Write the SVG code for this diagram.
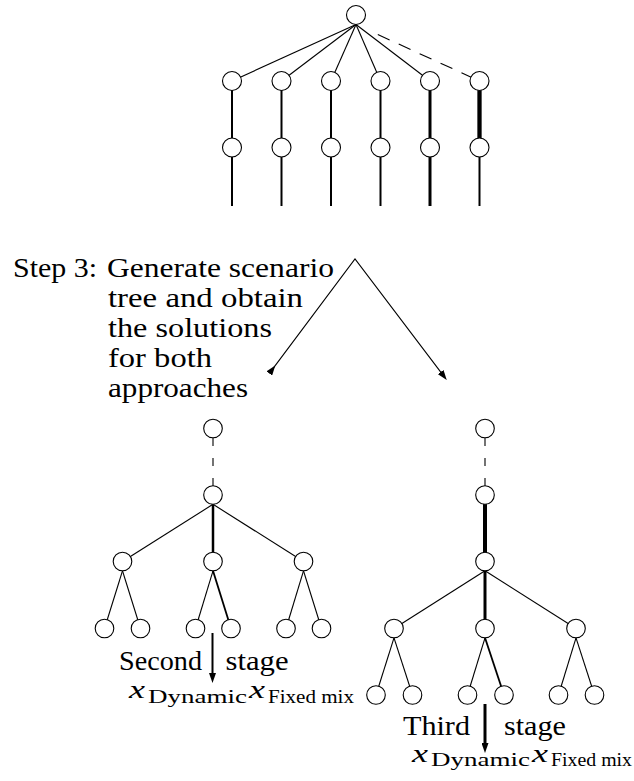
<svg xmlns="http://www.w3.org/2000/svg" width="634" height="781" viewBox="0 0 634 781">
<style>
  .n { fill: #fff; stroke: #000; stroke-width: 1.1; }
  .e { stroke: #000; stroke-width: 1.1; fill: none; stroke-linecap: butt; }
  .d { stroke-dasharray: 13 10; }
  .dv { stroke-dasharray: 8 12; }
  .t { font-size: 27px; fill: #000; }
  .xi { font-size: 26px; font-style: italic; fill: #000; }
  .sub { font-size: 19px; fill: #000; }
</style>
<defs>
  <marker id="ah" markerUnits="userSpaceOnUse" viewBox="0 0 10 7" markerWidth="10" markerHeight="7" refX="2" refY="3.5" orient="auto">
    <path d="M0,0 L10,3.5 L0,7 z" fill="#000"/>
  </marker>
</defs>

<g id="connectors">
  <!-- top tree -->
  <line class="e" x1="356" y1="24.5" x2="232" y2="81"/>
  <line class="e" x1="356" y1="24.5" x2="281.5" y2="81"/>
  <line class="e" x1="356" y1="24.5" x2="331" y2="81"/>
  <line class="e" x1="356" y1="24.5" x2="380.5" y2="81"/>
  <line class="e" x1="356" y1="24.5" x2="430" y2="81"/>
  <line class="e d" x1="377.8" y1="34.5" x2="479.5" y2="81"/>
  <line class="e" style="stroke-width:2" x1="232" y1="81" x2="232" y2="147.5"/>
  <line class="e" style="stroke-width:2" x1="281.5" y1="81" x2="281.5" y2="147.5"/>
  <line class="e" style="stroke-width:2" x1="331" y1="81" x2="331" y2="147.5"/>
  <line class="e" style="stroke-width:2" x1="380.5" y1="81" x2="380.5" y2="147.5"/>
  <line class="e" style="stroke-width:3" x1="430" y1="81" x2="430" y2="147.5"/>
  <line class="e" style="stroke-width:4.3" x1="479.5" y1="81" x2="479.5" y2="147.5"/>
  <line class="e" style="stroke-width:2" x1="232" y1="147.5" x2="232" y2="206"/>
  <line class="e" style="stroke-width:2" x1="281.5" y1="147.5" x2="281.5" y2="206"/>
  <line class="e" style="stroke-width:2" x1="331" y1="147.5" x2="331" y2="206"/>
  <line class="e" style="stroke-width:2" x1="380.5" y1="147.5" x2="380.5" y2="206"/>
  <line class="e" style="stroke-width:3" x1="430" y1="147.5" x2="430" y2="206"/>
  <line class="e" style="stroke-width:2" x1="479.5" y1="147.5" x2="479.5" y2="206"/>

  <!-- step 3 arrows -->
  <polyline class="e" points="270.5,371.9 355,259 441.9,373.6" marker-start="url(#ah)" marker-end="url(#ah)"/>

  <!-- left tree -->
  <line class="e dv" x1="213" y1="438" x2="213" y2="486"/>
  <line class="e" x1="213" y1="504.3" x2="122.5" y2="561.5"/>
  <line class="e" style="stroke-width:2.5" x1="213" y1="504.3" x2="213" y2="561.5"/>
  <line class="e" x1="213" y1="504.3" x2="303.5" y2="561.5"/>
  <line class="e" x1="122.5" y1="570.8" x2="104.5" y2="628.5"/>
  <line class="e" x1="122.5" y1="570.8" x2="140.5" y2="628.5"/>
  <line class="e" x1="213" y1="570.8" x2="195.5" y2="628.5"/>
  <line class="e" style="stroke-width:1.8" x1="213" y1="570.8" x2="231" y2="628.5"/>
  <line class="e" x1="303.5" y1="570.8" x2="286" y2="628.5"/>
  <line class="e" x1="303.5" y1="570.8" x2="321.5" y2="628.5"/>
  <line class="e" style="stroke-width:2" x1="212.5" y1="633" x2="212.5" y2="675" marker-end="url(#ah)"/>

  <!-- right tree -->
  <line class="e dv" x1="485" y1="438" x2="485" y2="486"/>
  <line class="e" style="stroke-width:4" x1="485" y1="495" x2="485" y2="561.5"/>
  <line class="e" x1="485" y1="570.8" x2="394" y2="628.5"/>
  <line class="e" style="stroke-width:3" x1="485" y1="570.8" x2="485" y2="628.5"/>
  <line class="e" x1="485" y1="570.8" x2="576" y2="628.5"/>
  <line class="e" x1="394" y1="637.8" x2="376" y2="695"/>
  <line class="e" x1="394" y1="637.8" x2="412.5" y2="695"/>
  <line class="e" x1="485" y1="637.8" x2="467.5" y2="695"/>
  <line class="e" style="stroke-width:1.8" x1="485" y1="637.8" x2="504" y2="695"/>
  <line class="e" x1="576" y1="637.8" x2="558.5" y2="695"/>
  <line class="e" x1="576" y1="637.8" x2="594.5" y2="695"/>
  <line class="e" style="stroke-width:3" x1="485" y1="704" x2="485" y2="745" marker-end="url(#ah)"/>
</g>

<!-- top tree nodes -->
<g id="top-root"><circle class="n" cx="356" cy="15" r="9.5"/></g>
<g id="top-a1"><circle class="n" cx="232" cy="81" r="9.5"/></g>
<g id="top-b1"><circle class="n" cx="281.5" cy="81" r="9.5"/></g>
<g id="top-c1"><circle class="n" cx="331" cy="81" r="9.5"/></g>
<g id="top-d1"><circle class="n" cx="380.5" cy="81" r="9.5"/></g>
<g id="top-e1"><circle class="n" cx="430" cy="81" r="9.5"/></g>
<g id="top-f1"><circle class="n" cx="479.5" cy="81" r="9.5"/></g>
<g id="top-a2"><circle class="n" cx="232" cy="147.5" r="9.5"/></g>
<g id="top-b2"><circle class="n" cx="281.5" cy="147.5" r="9.5"/></g>
<g id="top-c2"><circle class="n" cx="331" cy="147.5" r="9.5"/></g>
<g id="top-d2"><circle class="n" cx="380.5" cy="147.5" r="9.5"/></g>
<g id="top-e2"><circle class="n" cx="430" cy="147.5" r="9.5"/></g>
<g id="top-f2"><circle class="n" cx="479.5" cy="147.5" r="9.5"/></g>

<!-- step 3 text -->
<g id="step3" font-family="Liberation Serif, serif">
  <text class="t" x="13" y="277" textLength="84" lengthAdjust="spacingAndGlyphs">Step 3:</text>
  <text class="t" x="107" y="277" textLength="227" lengthAdjust="spacingAndGlyphs">Generate scenario</text>
  <text class="t" x="108" y="307" textLength="195" lengthAdjust="spacingAndGlyphs">tree and obtain</text>
  <text class="t" x="108" y="337" textLength="164" lengthAdjust="spacingAndGlyphs">the solutions</text>
  <text class="t" x="108" y="367" textLength="104" lengthAdjust="spacingAndGlyphs">for both</text>
  <text class="t" x="108" y="397" textLength="140" lengthAdjust="spacingAndGlyphs">approaches</text>
</g>

<!-- left tree nodes -->
<g id="L-top"><circle class="n" cx="213" cy="428.5" r="9.3"/></g>
<g id="L-root"><circle class="n" cx="213" cy="495" r="9.3"/></g>
<g id="L-a"><circle class="n" cx="122.5" cy="561.5" r="9.3"/></g>
<g id="L-b"><circle class="n" cx="213" cy="561.5" r="9.3"/></g>
<g id="L-c"><circle class="n" cx="303.5" cy="561.5" r="9.3"/></g>
<g id="L-a1"><circle class="n" cx="104.5" cy="628.5" r="9.3"/></g>
<g id="L-a2"><circle class="n" cx="140.5" cy="628.5" r="9.3"/></g>
<g id="L-b1"><circle class="n" cx="195.5" cy="628.5" r="9.3"/></g>
<g id="L-b2"><circle class="n" cx="231" cy="628.5" r="9.3"/></g>
<g id="L-c1"><circle class="n" cx="286" cy="628.5" r="9.3"/></g>
<g id="L-c2"><circle class="n" cx="321.5" cy="628.5" r="9.3"/></g>
<g id="L-label" font-family="Liberation Serif, serif">
  <text class="t" x="119" y="670" textLength="83" lengthAdjust="spacingAndGlyphs">Second</text>
  <text class="t" x="225.5" y="670" textLength="63" lengthAdjust="spacingAndGlyphs">stage</text>
  <text class="xi" x="129" y="698" textLength="16" lengthAdjust="spacingAndGlyphs">x</text>
  <text class="sub" x="148" y="702.5" textLength="99" lengthAdjust="spacingAndGlyphs">Dynamic</text>
  <text class="xi" x="249" y="698" textLength="16" lengthAdjust="spacingAndGlyphs">x</text>
  <text class="sub" x="268" y="702.5" textLength="86" lengthAdjust="spacingAndGlyphs">Fixed mix</text>
</g>

<!-- right tree nodes -->
<g id="R-top"><circle class="n" cx="485" cy="428.5" r="9.3"/></g>
<g id="R-1"><circle class="n" cx="485" cy="495" r="9.3"/></g>
<g id="R-root"><circle class="n" cx="485" cy="561.5" r="9.3"/></g>
<g id="R-a"><circle class="n" cx="394" cy="628.5" r="9.3"/></g>
<g id="R-b"><circle class="n" cx="485" cy="628.5" r="9.3"/></g>
<g id="R-c"><circle class="n" cx="576" cy="628.5" r="9.3"/></g>
<g id="R-a1"><circle class="n" cx="376" cy="695" r="9.3"/></g>
<g id="R-a2"><circle class="n" cx="412.5" cy="695" r="9.3"/></g>
<g id="R-b1"><circle class="n" cx="467.5" cy="695" r="9.3"/></g>
<g id="R-b2"><circle class="n" cx="504" cy="695" r="9.3"/></g>
<g id="R-c1"><circle class="n" cx="558.5" cy="695" r="9.3"/></g>
<g id="R-c2"><circle class="n" cx="594.5" cy="695" r="9.3"/></g>
<g id="R-label" font-family="Liberation Serif, serif">
  <text class="t" x="403" y="735" textLength="67" lengthAdjust="spacingAndGlyphs">Third</text>
  <text class="t" x="504" y="735" textLength="62" lengthAdjust="spacingAndGlyphs">stage</text>
  <text class="xi" x="412" y="762" textLength="16" lengthAdjust="spacingAndGlyphs">x</text>
  <text class="sub" x="431" y="766" textLength="99" lengthAdjust="spacingAndGlyphs">Dynamic</text>
  <text class="xi" x="532" y="762" textLength="16" lengthAdjust="spacingAndGlyphs">x</text>
  <text class="sub" x="551" y="766" textLength="81" lengthAdjust="spacingAndGlyphs">Fixed mix</text>
</g>
</svg>
